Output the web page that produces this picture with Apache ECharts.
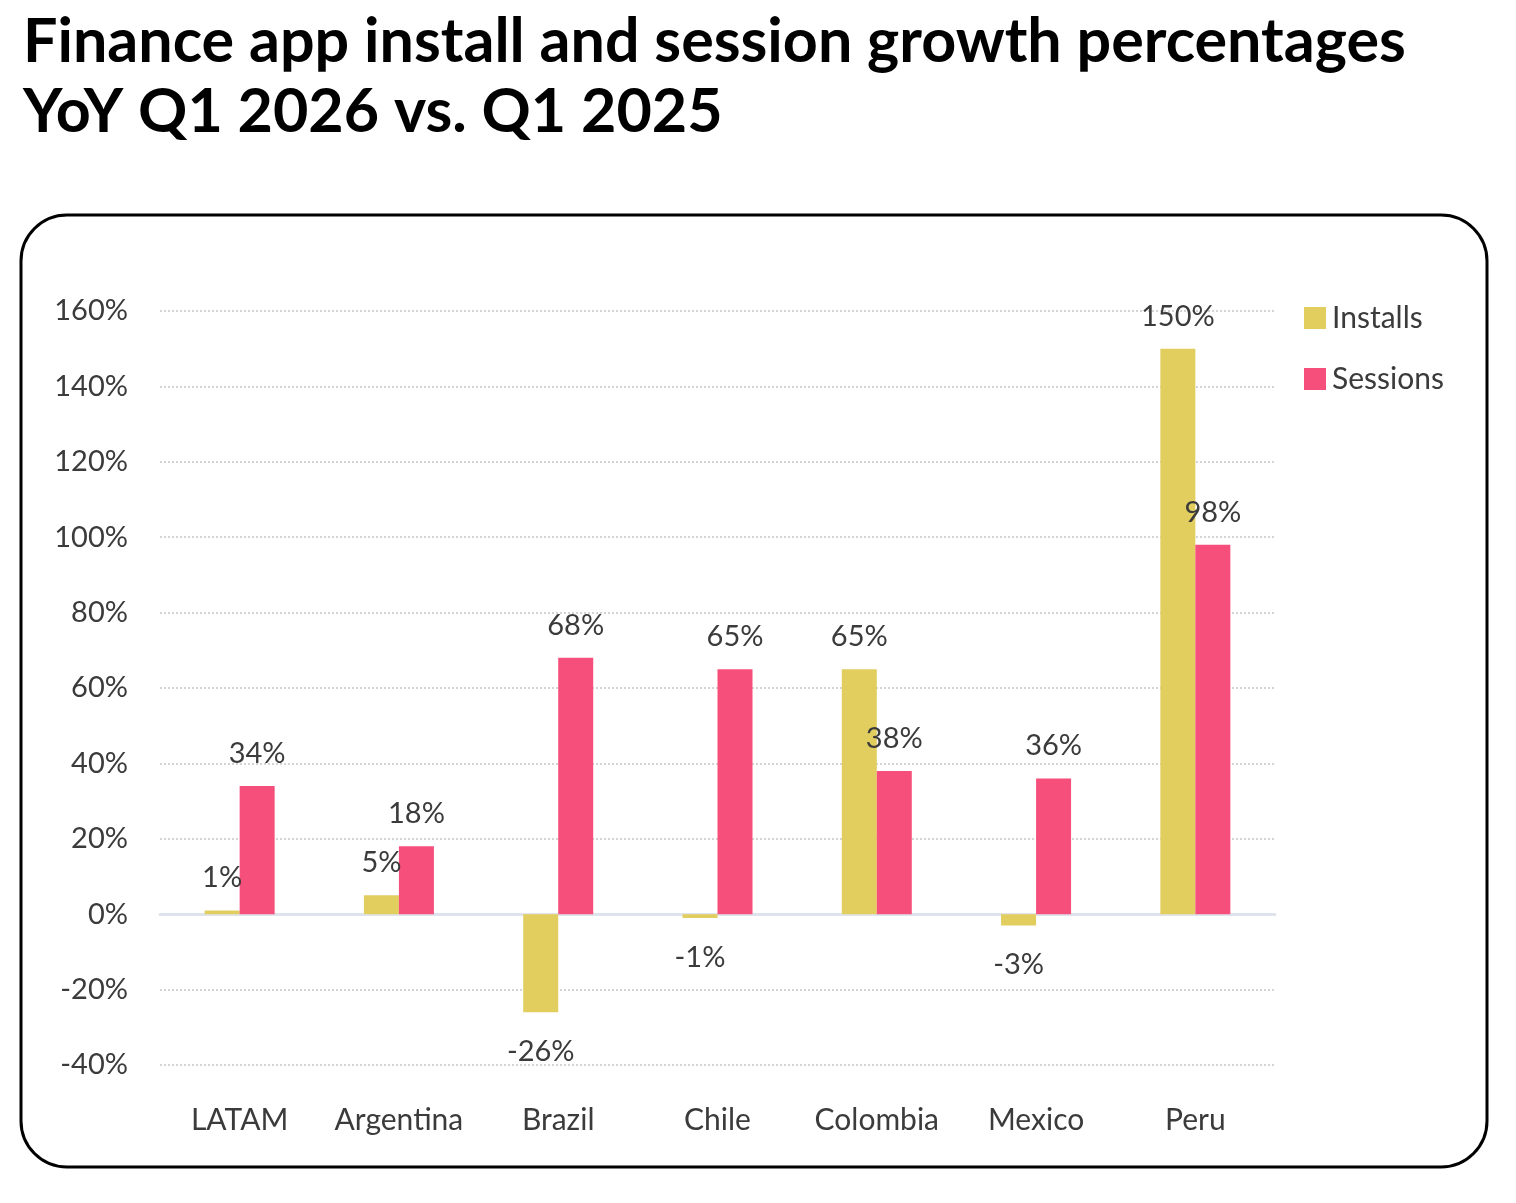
<!DOCTYPE html>
<html>
<head>
<meta charset="utf-8">
<title>Finance app install and session growth</title>
<script src="https://cdn.jsdelivr.net/npm/echarts@6/dist/echarts.min.js"></script>
<style>
  html, body { margin: 0; padding: 0; background: #fff; }
  #chart { width: 1516px; height: 1203px; }
</style>
</head>
<body>
<div id="chart"></div>
<script>
// data
var countries = ['LATAM', 'Argentina', 'Brazil', 'Chile', 'Colombia', 'Mexico', 'Peru'];
var installs = [1, 5, -26, -1, 65, -3, 150];
var sessions = [34, 18, 68, 65, 38, 36, 98];
var yTicks = [-40, 160, 20]; // min, max, step

var FONT = 'Lato';
var TEXT = '#3b3b3b';

function withLabels(values) {
    return values.map(function (v) {
        return {
            value: v,
            label: v < 0 ? { position: 'bottom', distance: 25 } : { position: 'top', distance: 18 }
        };
    });
}

var chart = echarts.init(document.getElementById('chart'), null, { renderer: 'canvas' });

chart.setOption({
    backgroundColor: '#fff',
    animation: false,
    textStyle: { fontFamily: FONT },
    title: {
        text: 'Finance app install and session growth percentages\nYoY Q1 2026 vs. Q1 2025',
        left: 18,
        top: 2,
        textStyle: {
            fontFamily: FONT,
            fontSize: 61,
            fontWeight: 'bold',
            lineHeight: 70,
            color: '#000'
        }
    },
    graphic: [{
        type: 'rect',
        z: -1,
        shape: { x: 21, y: 215, width: 1466, height: 952, r: 46 },
        style: { fill: 'none', stroke: '#000', lineWidth: 3 }
    }],
    legend: {
        orient: 'vertical',
        left: 1299,
        top: 298,
        itemWidth: 22,
        itemHeight: 22,
        itemGap: 31,
        icon: 'rect',
        textStyle: { fontFamily: FONT, fontSize: 30, color: TEXT, padding: [0, 0, 0, 1] },
        data: ['Installs', 'Sessions']
    },
    grid: {
        left: 160,
        right: 241,
        top: 311,
        bottom: 138,
        containLabel: false
    },
    xAxis: [{
        type: 'category',
        data: countries,
        axisLine: { onZero: true, lineStyle: { color: '#dfe4ec', width: 3 } },
        axisTick: { show: false },
        axisLabel: { show: false }
    }, {
        type: 'category',
        data: countries,
        position: 'bottom',
        axisLine: { show: false, onZero: false },
        axisTick: { show: false },
        axisLabel: { interval: 0, margin: 40, fontFamily: FONT, fontSize: 30, color: TEXT }
    }],
    yAxis: {
        type: 'value',
        min: yTicks[0],
        max: yTicks[1],
        interval: yTicks[2],
        axisLine: { show: false },
        axisTick: { show: false },
        axisLabel: {
            margin: 32,
            fontFamily: FONT,
            fontSize: 29,
            color: TEXT,
            formatter: '{value}%'
        },
        splitLine: { lineStyle: { type: 'dotted', color: '#d4d4d4', width: 2 } }
    },
    series: [{
        name: 'Installs',
        type: 'bar',
        barWidth: 35,
        barGap: '0%',
        itemStyle: { color: '#e2cd5f' },
        label: {
            show: true,
            fontFamily: FONT,
            fontSize: 29,
            color: TEXT,
            formatter: '{c}%'
        },
        data: withLabels(installs)
    }, {
        name: 'Sessions',
        type: 'bar',
        barWidth: 35,
        barGap: '0%',
        itemStyle: { color: '#f74f7b' },
        label: {
            show: true,
            fontFamily: FONT,
            fontSize: 29,
            color: TEXT,
            formatter: '{c}%'
        },
        data: withLabels(sessions)
    }]
});
</script>
</body>
</html>
